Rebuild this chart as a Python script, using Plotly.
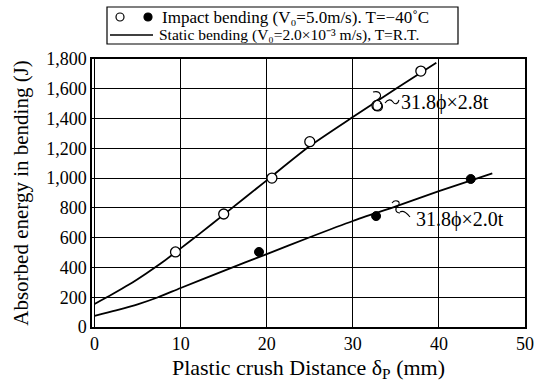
import plotly.graph_objects as go

# ---------------- data ----------------
impact_open_x = [9.4, 15.0, 20.6, 25.0, 32.8, 37.9]
impact_open_y = [504, 759, 1000, 1245, 1488, 1719]

impact_filled_x = [19.1, 32.7, 43.7]
impact_filled_y = [504, 745, 994]

static_28_x = [0, 2, 4, 6, 8, 10, 12, 15, 20, 25, 30, 35, 39.7]
static_28_y = [155, 218, 285, 360, 440, 528, 617, 755, 985, 1215, 1410, 1600, 1775]

static_20_x = [0, 2.5, 5, 7.3, 10, 15, 20, 25, 30, 35, 40, 46.2]
static_20_y = [75, 112, 152, 198, 262, 377, 490, 603, 712, 810, 912, 1032]

x_ticks = [0, 10, 20, 30, 40, 50]
y_ticks = [0, 200, 400, 600, 800, 1000, 1200, 1400, 1600, 1800]
y_tick_text = ["0", "200", "400", "600", "800", "1,000", "1,200", "1,400", "1,600", "1,800"]

# ---------------- layout geometry ----------------
W, H = 543, 384
L, R, T, B = 92, 525, 59, 327
FONT = "Liberation Serif"


def px(xp):
    return (xp - L) / (R - L)


def py(yp):
    return (B - yp) / (B - T)


def path(cmds):
    out = []
    for c in cmds:
        out.append(c if isinstance(c, str) else f"{px(c[0]):.5f},{py(c[1]):.5f}")
    return " ".join(out)


fig = go.Figure()

line_style = dict(color="black", width=1.8, shape="spline", smoothing=0.7)
fig.add_trace(go.Scatter(x=static_28_x, y=static_28_y, mode="lines", line=line_style,
                         showlegend=False, hoverinfo="skip"))
fig.add_trace(go.Scatter(x=static_20_x, y=static_20_y, mode="lines", line=line_style,
                         showlegend=False, hoverinfo="skip"))
fig.add_trace(go.Scatter(x=impact_open_x, y=impact_open_y, mode="markers",
                         marker=dict(symbol="circle", size=10, color="white",
                                     line=dict(color="black", width=1.3)),
                         showlegend=False))
fig.add_trace(go.Scatter(x=impact_filled_x, y=impact_filled_y, mode="markers",
                         marker=dict(symbol="circle", size=9, color="black",
                                     line=dict(color="black", width=1)),
                         showlegend=False))

ROW1, ROW2 = 17, 35
shapes = []
shapes.append(dict(type="rect", xref="paper", yref="paper",
                   x0=px(107), x1=px(458), y0=py(44), y1=py(7),
                   line=dict(color="black", width=1.2), fillcolor="white", layer="above"))
for cx, filled in [(120, False), (148, True)]:
    shapes.append(dict(type="circle", xref="paper", yref="paper",
                       x0=px(cx - 4), x1=px(cx + 4), y0=py(ROW1 + 4), y1=py(ROW1 - 4),
                       line=dict(color="black", width=1.2),
                       fillcolor="black" if filled else "white"))
shapes.append(dict(type="line", xref="paper", yref="paper",
                   x0=px(110), x1=px(153), y0=py(ROW2), y1=py(ROW2),
                   line=dict(color="black", width=1.6)))

hook1 = path(["M", (373, 92), "C", (381, 90), (383, 97), (377, 100),
              "C", (371, 103), (372, 111), (378, 111),
              "C", (383, 111), (384, 105), (380, 103),
              "M", (385, 103), "C", (388, 99), (391, 99), (393, 102),
              "C", (395, 105), (398, 104), (399, 100)])
hook2 = path(["M", (392, 203), "C", (395, 199), (402, 201), (398, 206),
              "C", (394, 209), (396, 213), (400, 213),
              "M", (400, 212), "C", (403, 210), (406, 212), (410, 217)])
for hp in (hook1, hook2):
    shapes.append(dict(type="path", xref="paper", yref="paper", path=hp,
                       line=dict(color="black", width=1.1)))

annotations = [
    dict(xref="paper", yref="paper", x=px(160), y=py(ROW1), xanchor="left", yanchor="middle",
         text="Impact bending (V\u2080=5.0m/s). T=\u221240\u02daC", showarrow=False,
         font=dict(family=FONT, size=17, color="black")),
    dict(xref="paper", yref="paper", x=px(157), y=py(ROW2), xanchor="left", yanchor="middle",
         text="Static bending (V\u2080=2.0\u00d710\u207b\u00b3 m/s), T=R.T.", showarrow=False,
         font=dict(family=FONT, size=15.5, color="black")),
    dict(xref="paper", yref="paper", x=px(399), y=py(102), xanchor="left", yanchor="middle",
         text="31.8\u03d5\u00d72.8t", showarrow=False,
         font=dict(family=FONT, size=20, color="black")),
    dict(xref="paper", yref="paper", x=px(414), y=py(219), xanchor="left", yanchor="middle",
         text="31.8\u03d5\u00d72.0t", showarrow=False,
         font=dict(family=FONT, size=20, color="black")),
]

fig.update_layout(
    width=W, height=H,
    margin=dict(l=L, r=W - R, t=T, b=H - B, pad=0, autoexpand=False),
    paper_bgcolor="white", plot_bgcolor="white",
    font=dict(family=FONT, color="black"),
    shapes=shapes, annotations=annotations,
    showlegend=False,
)
fig.update_xaxes(range=[-0.3, 50], tickvals=x_ticks, ticktext=[str(v) for v in x_ticks],
                 automargin=False,
                 showgrid=True, gridcolor="black", gridwidth=1, zeroline=False,
                 showline=True, linecolor="black", linewidth=1.5, mirror=True,
                 ticks="", tickfont=dict(family=FONT, size=18, color="black"),
                 title=dict(text="Plastic crush Distance \u03b4<sub>P</sub> (mm)",
                            font=dict(family=FONT, size=22, color="black"), standoff=6))
fig.update_yaxes(range=[0, 1800], tickvals=y_ticks, ticktext=y_tick_text,
                 automargin=False,
                 showgrid=True, gridcolor="black", gridwidth=1, zeroline=False,
                 showline=True, linecolor="black", linewidth=1.5, mirror=True,
                 ticks="", tickfont=dict(family=FONT, size=18, color="black"),
                 title=dict(text="Absorbed energy in bending (J)",
                            font=dict(family=FONT, size=21, color="black"), standoff=12))

fig.write_html("out.html")
